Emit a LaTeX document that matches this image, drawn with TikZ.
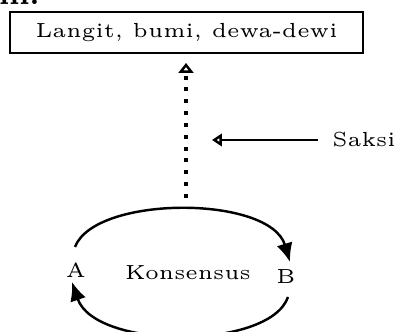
\documentclass[tikz,border=0pt]{standalone}
\usetikzlibrary{arrows.meta}
\begin{document}
\begin{tikzpicture}[x=0.245pt,y=-0.245pt,
  lbl/.style={font=\fontsize{5}{6}\selectfont, inner sep=0pt},
  thinbox/.style={draw, line width=0.3pt, minimum width=353*0.245pt, minimum height=41*0.245pt, inner sep=0pt},
  arc/.style={line width=0.6pt, -{Latex[length=4.6pt,width=4pt]}},
  dots/.style={line width=0.8pt, dash pattern=on 1pt off 1.9pt, -{Triangle[open,length=2.4pt,width=3.6pt,line width=0.75pt]}},
  saksiarrow/.style={line width=0.5pt, -{Triangle[open,length=2.4pt,width=3pt,line width=0.65pt]}}]
\useasboundingbox (0,0) rectangle (401,332);
\node[anchor=base west, font=\fontsize{7}{8}\selectfont\bfseries, inner sep=0pt] (top) at (-2,5) {m.};
\node[thinbox] (box) at (186.5,32.5) {};
\node[lbl] (boxtxt) at (box.center) {Langit, bumi, dewa-dewi};
\coordinate (dbot) at (186,198);
\coordinate (dtop) at (186,63);
\node[lbl] (saksi) at (364,140) {Saksi};
\coordinate (stip) at (212,140);
\node[lbl] (A) at (76,270) {A};
\node[lbl] (B) at (286,277) {B};
\node[lbl] (K) at (188,273) {Konsensus};
\coordinate (a1) at (75,247);
\coordinate (b1) at (290,262);
\coordinate (b2) at (288,297);
\coordinate (a2) at (72,282);
\draw[dots] (dbot) -- (dtop);
\draw[saksiarrow] (318,140) -- (stip);
\draw[arc] (a1) .. controls (95,195) and (270,195) .. (b1);
\draw[arc] (b2) .. controls (270,350) and (95,350) .. (a2);
\end{tikzpicture}
\end{document}
